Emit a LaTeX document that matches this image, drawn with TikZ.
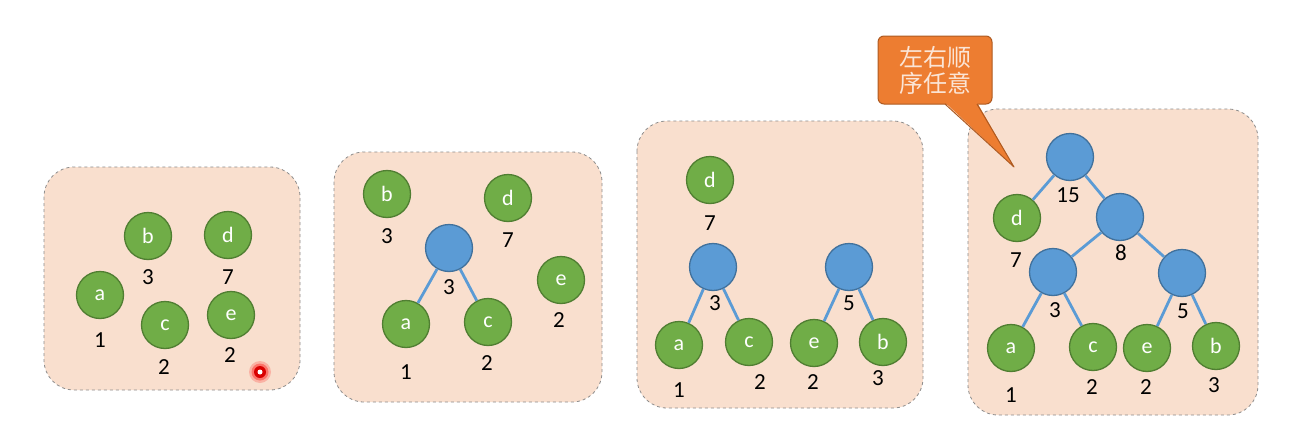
\documentclass[tikz,border=0pt]{standalone}
\usepackage{fontspec}
\setmainfont{Carlito}
\newfontfamily\cjk{Noto Sans CJK SC}
\definecolor{boxfill}{HTML}{F9DFCE}
\definecolor{boxline}{HTML}{8C8C8C}
\definecolor{leaffill}{HTML}{70AD47}
\definecolor{leafline}{HTML}{507E32}
\definecolor{innfill}{HTML}{5B9BD5}
\definecolor{innline}{HTML}{41719C}
\definecolor{calfill}{HTML}{ED7D31}
\definecolor{calline}{HTML}{AE5A21}
\definecolor{caltext}{HTML}{FBE5D6}
\begin{document}
\begin{tikzpicture}[x=1pt,y=-1pt,
  panel/.style={draw=boxline, fill=boxfill, dashed, line width=0.8pt, rounded corners=30pt},
  leaf/.style={circle, fill=leaffill, draw=leafline, line width=1.3pt, minimum size=47pt, inner sep=0pt, text=white, font=\fontsize{22}{26}\selectfont},
  inn/.style={circle, fill=innfill, draw=innline, line width=1.3pt, minimum size=47pt, inner sep=0pt},
  wt/.style={inner sep=0pt, font=\fontsize{23}{27}\selectfont, text=black},
  edge/.style={draw=innfill, line width=2.8pt},
  callout/.style={rectangle, rounded corners=6pt, fill=calfill, draw=calline, line width=1pt, minimum width=114pt, minimum height=68pt, inner sep=0pt, align=center, text=caltext, font=\cjk\fontsize{24}{26}\selectfont}
]
\useasboundingbox (0,0) rectangle (1294,434);

% Panel 1
\draw[panel] (44,167) rectangle (300,390);
\node[leaf] (p1b) at (148,236) {b};
\node[leaf] (p1d) at (228,235) {d};
\node[leaf] (p1a) at (100,295) {a};
\node[leaf] (p1c) at (165,325) {c};
\node[leaf] (p1e) at (231,315) {e};
\node[wt] (w1b) at (148,277) {3};
\node[wt] (w1d) at (228,277) {7};
\node[wt] (w1a) at (100,340) {1};
\node[wt] (w1c) at (164,367) {2};
\node[wt] (w1e) at (230,355) {2};
% pointer dot
\fill[red, opacity=0.2] (260,372) circle (11pt);
\fill[red, opacity=0.35] (260,372) circle (8.5pt);
\fill[red!85!black] (260,372) circle (6pt);
\fill[white] (260,372) circle (2.5pt);

% Panel 2
\draw[panel] (334,152) rectangle (602,402);
\node[leaf] (p2b) at (387,194) {b};
\node[leaf] (p2d) at (508,198) {d};
\node[inn] (p2n3) at (449,248) {};
\node[leaf] (p2e) at (561,280) {e};
\node[leaf] (p2a) at (406,324) {a};
\node[leaf] (p2c) at (488,322) {c};
\draw[edge] (p2n3) -- (p2a);
\draw[edge] (p2n3) -- (p2c);
\node[wt] (w2b) at (387,236) {3};
\node[wt] (w2d) at (508,240) {7};
\node[wt] (w2n3) at (449,287) {3};
\node[wt] (w2e) at (559,320) {2};
\node[wt] (w2a) at (406,372) {1};
\node[wt] (w2c) at (487,363) {2};

% Panel 3
\draw[panel] (637,121) rectangle (923,408);
\node[leaf] (p3d) at (710,180) {d};
\node[inn] (p3n3) at (713,267) {};
\node[inn] (p3n5) at (849,267) {};
\node[leaf] (p3a) at (679,345) {a};
\node[leaf] (p3c) at (749,342) {c};
\node[leaf] (p3e) at (814,343) {e};
\node[leaf] (p3b) at (883,342) {b};
\draw[edge] (p3n3) -- (p3a);
\draw[edge] (p3n3) -- (p3c);
\draw[edge] (p3n5) -- (p3e);
\draw[edge] (p3n5) -- (p3b);
\node[wt] (w3d) at (710,223) {7};
\node[wt] (w3n3) at (715,303) {3};
\node[wt] (w3n5) at (849,303) {5};
\node[wt] (w3a) at (679,390) {1};
\node[wt] (w3c) at (760,382) {2};
\node[wt] (w3e) at (813,382) {2};
\node[wt] (w3b) at (878,378) {3};

% Panel 4
\draw[panel] (968,109) rectangle (1258,415);
\node[inn] (p4r) at (1070,157) {};
\node[leaf] (p4d) at (1017,218) {d};
\node[inn] (p4n8) at (1120,217) {};
\node[inn] (p4n3) at (1053,272) {};
\node[inn] (p4n5) at (1182,273) {};
\node[leaf] (p4a) at (1011,348) {a};
\node[leaf] (p4c) at (1093,347) {c};
\node[leaf] (p4e) at (1147,348) {e};
\node[leaf] (p4b) at (1216,346) {b};
\draw[edge] (p4r) -- (p4d);
\draw[edge] (p4r) -- (p4n8);
\draw[edge] (p4n8) -- (p4n3);
\draw[edge] (p4n8) -- (p4n5);
\draw[edge] (p4n3) -- (p4a);
\draw[edge] (p4n3) -- (p4c);
\draw[edge] (p4n5) -- (p4e);
\draw[edge] (p4n5) -- (p4b);
\node[wt] (w4r) at (1068,195) {15};
\node[wt] (w4d) at (1016,260) {7};
\node[wt] (w4n8) at (1121,253) {8};
\node[wt] (w4n3) at (1055,310) {3};
\node[wt] (w4n5) at (1183,311) {5};
\node[wt] (w4a) at (1011,395) {1};
\node[wt] (w4c) at (1092,387) {2};
\node[wt] (w4e) at (1146,387) {2};
\node[wt] (w4b) at (1214,385) {3};

% Callout
\node[callout] (call) at (935,70) {左右顺\\序任意};
\coordinate (tip) at (1014,167);
\coordinate (cl) at (945,104);
\coordinate (cr) at (977,104);
\fill[calfill] ([yshift=1.5pt]cl) -- (tip) -- ([yshift=1.5pt]cr) -- cycle;
\draw[calline, line width=1pt, line join=round] (cl) -- (tip) -- (cr);
\end{tikzpicture}
\end{document}
